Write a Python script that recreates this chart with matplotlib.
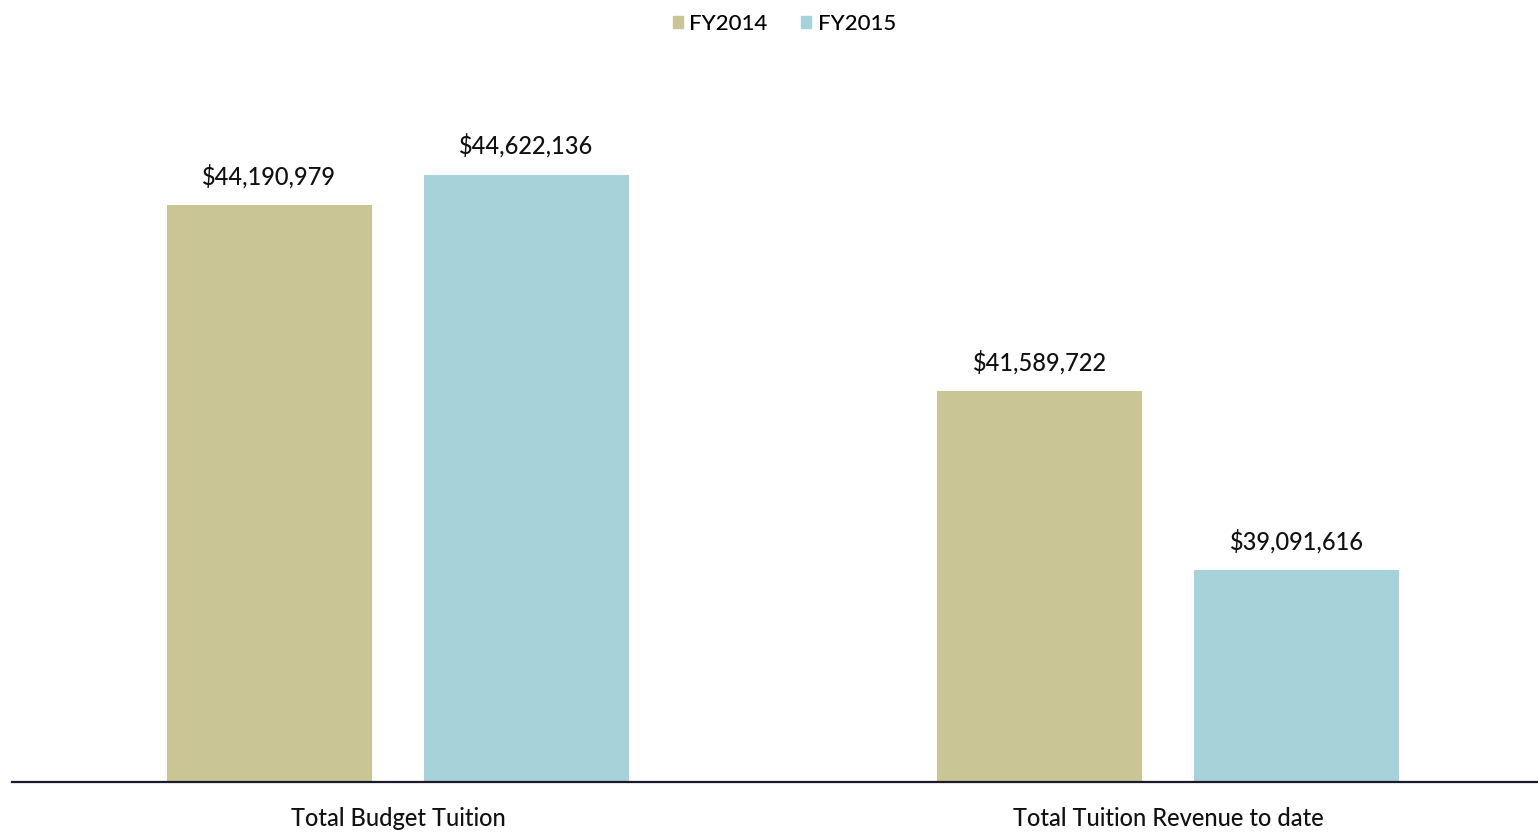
import numpy as np
import matplotlib.pyplot as plt
from matplotlib.patches import Patch

plt.rcParams['font.family'] = ['Lato', 'DejaVu Sans']
plt.rcParams['font.weight'] = 'medium'

categories = ['Total Budget Tuition', 'Total Tuition Revenue to date']
series = ['FY2014', 'FY2015']
fy2014 = [44190979, 41589722]
fy2015 = [44622136, 39091616]
colors = ['#C9C594', '#A6D3DA']

fig = plt.figure(figsize=(15.38, 8.32), dpi=100)
ax = fig.add_axes([12 / 1538, 50 / 832, 1 - 12 / 1538, 682 / 832])

x = np.arange(len(categories))
width = 0.266
offset = 0.167

for vals, off, col in zip([fy2014, fy2015], [-offset, offset], colors):
    bars = ax.bar(x + off, vals, width, color=col, zorder=2)
    for b, v in zip(bars, vals):
        ax.annotate(f'${v:,.0f}', (b.get_x() + b.get_width() / 2, v),
                    xytext=(0, 12), textcoords='offset points',
                    ha='center', va='bottom', fontsize=17, color='#111111')

ax.set_ylim(36.12e6, 36.12e6 + 682 / 71.43 * 1e6)
ax.set_xlim(-0.501, 1.48)

for s in ['top', 'right', 'left']:
    ax.spines[s].set_visible(False)
ax.spines['bottom'].set_linewidth(1.6)
ax.spines['bottom'].set_color('#1a1a2a')
ax.set_yticks([])
ax.set_xticks(x)
ax.set_xticklabels(categories, fontsize=17, color='#111111')
ax.tick_params(axis='x', length=0, pad=18)

handles = [Patch(color=c, label=s) for c, s in zip(colors, series)]
fig.legend(handles=handles, loc='center', bbox_to_anchor=(0.51, 0.971),
           ncol=2, frameon=False, fontsize=16, handlelength=0.45, handleheight=0.45,
           handletextpad=0.3, columnspacing=1.5)

fig.savefig('out.png', dpi=100)
